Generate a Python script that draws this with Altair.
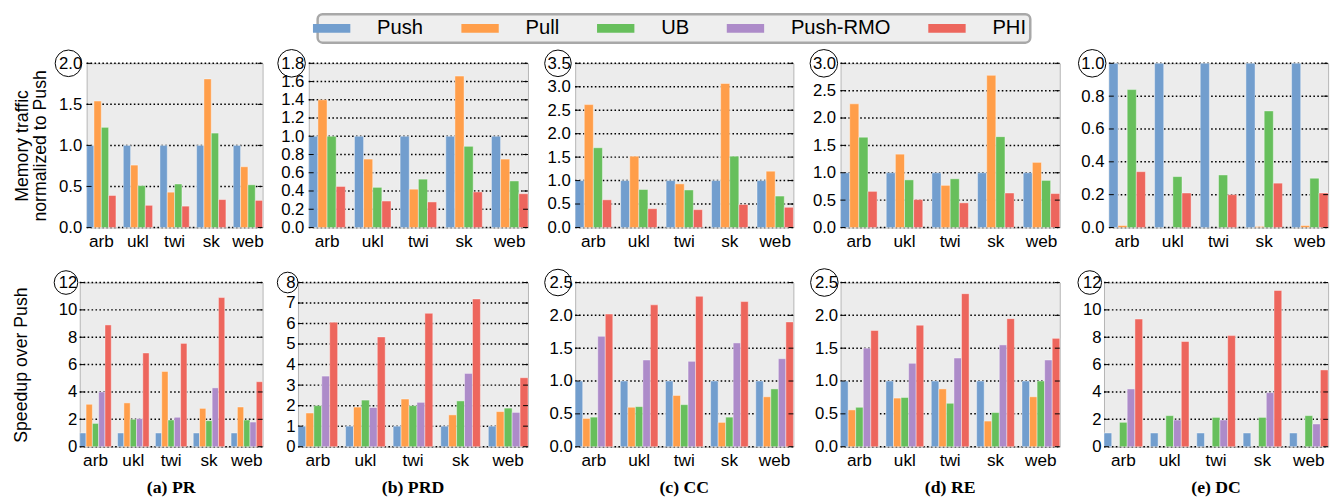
import altair as alt
import pandas as pd

DATASETS = ["arb", "ukl", "twi", "sk", "web"]
SERIES = ["Push", "Pull", "UB", "Push-RMO", "PHI"]
MEM_SERIES = ["Push", "Pull", "UB", "PHI"]
COLORS = ["#729ECE", "#FF9E4A", "#67BF5C", "#AD8BC9", "#ED665D"]
CAPTIONS = ["(a) PR", "(b) PRD", "(c) CC", "(d) RE", "(e) DC"]

# ---- Memory traffic normalized to Push (top row) ----
pr_mem = {"Push": [1.0, 1.0, 1.0, 1.0, 1.0],
          "Pull": [1.54, 0.76, 0.43, 1.81, 0.74],
          "UB":   [1.22, 0.51, 0.53, 1.15, 0.52],
          "PHI":  [0.39, 0.27, 0.26, 0.34, 0.33]}
prd_mem = {"Push": [1.0, 1.0, 1.0, 1.0, 1.0],
           "Pull": [1.40, 0.75, 0.42, 1.66, 0.75],
           "UB":   [1.00, 0.44, 0.53, 0.89, 0.51],
           "PHI":  [0.45, 0.29, 0.28, 0.39, 0.37]}
cc_mem = {"Push": [1.0, 1.0, 1.0, 1.0, 1.0],
          "Pull": [2.62, 1.52, 0.93, 3.07, 1.20],
          "UB":   [1.70, 0.81, 0.80, 1.52, 0.67],
          "PHI":  [0.59, 0.40, 0.38, 0.49, 0.43]}
re_mem = {"Push": [1.0, 1.0, 1.0, 1.0, 1.0],
          "Pull": [2.26, 1.34, 0.77, 2.78, 1.19],
          "UB":   [1.65, 0.87, 0.89, 1.66, 0.86],
          "PHI":  [0.66, 0.51, 0.45, 0.63, 0.62]}
dc_mem = {"Push": [1.0, 1.0, 1.0, 1.0, 1.0],
          "Pull": [0.012, None, None, 0.006, 0.012],
          "UB":   [0.84, 0.31, 0.32, 0.71, 0.30],
          "PHI":  [0.34, 0.21, 0.20, 0.27, 0.21]}

# ---- Speedup over Push (bottom row) ----
pr_spd = {"Push": [1.0, 1.0, 1.0, 1.0, 1.0],
          "Pull": [3.1, 3.2, 5.5, 2.8, 2.9],
          "UB":   [1.7, 2.0, 1.95, 1.9, 1.95],
          "Push-RMO": [4.0, 2.05, 2.15, 4.3, 1.8],
          "PHI":  [8.9, 6.85, 7.55, 10.9, 4.75]}
prd_spd = {"Push": [1.0, 1.0, 1.0, 1.0, 1.0],
           "Pull": [1.64, 1.93, 2.32, 1.55, 1.71],
           "UB":   [2.0, 2.27, 2.0, 2.23, 1.88],
           "Push-RMO": [3.44, 1.91, 2.16, 3.57, 1.67],
           "PHI":  [6.07, 5.35, 6.5, 7.2, 3.36]}
cc_spd = {"Push": [1.0, 1.0, 1.0, 1.0, 1.0],
          "Pull": [0.43, 0.60, 0.78, 0.37, 0.76],
          "UB":   [0.45, 0.61, 0.64, 0.45, 0.88],
          "Push-RMO": [1.68, 1.32, 1.30, 1.58, 1.34],
          "PHI":  [2.02, 2.16, 2.29, 2.21, 1.90]}
re_spd = {"Push": [1.0, 1.0, 1.0, 1.0, 1.0],
          "Pull": [0.56, 0.74, 0.88, 0.39, 0.76],
          "UB":   [0.60, 0.75, 0.66, 0.52, 1.0],
          "Push-RMO": [1.50, 1.27, 1.35, 1.55, 1.32],
          "PHI":  [1.77, 1.85, 2.33, 1.95, 1.65]}
dc_spd = {"Push": [1.0, 1.0, 1.0, 1.0, 1.0],
          "Pull": [None, None, None, None, None],
          "UB":   [1.78, 2.27, 2.14, 2.14, 2.27],
          "Push-RMO": [4.22, 1.95, 1.95, 3.95, 1.66],
          "PHI":  [9.33, 7.69, 8.12, 11.42, 5.61]}

# ---- y tick values ----
pr_mem_ticks = [0.0, 0.5, 1.0, 1.5, 2.0]
prd_mem_ticks = [0.0, 0.2, 0.4, 0.6, 0.8, 1.0, 1.2, 1.4, 1.6, 1.8]
cc_mem_ticks = [0.0, 0.5, 1.0, 1.5, 2.0, 2.5, 3.0, 3.5]
re_mem_ticks = [0.0, 0.5, 1.0, 1.5, 2.0, 2.5, 3.0]
dc_mem_ticks = [0.0, 0.2, 0.4, 0.6, 0.8, 1.0]
pr_spd_ticks = [0, 2, 4, 6, 8, 10, 12]
prd_spd_ticks = [0, 1, 2, 3, 4, 5, 6, 7, 8]
cc_spd_ticks = [0.0, 0.5, 1.0, 1.5, 2.0, 2.5]
re_spd_ticks = [0.0, 0.5, 1.0, 1.5, 2.0, 2.5]
dc_spd_ticks = [0, 2, 4, 6, 8, 10, 12]

FONT = "Liberation Sans"

LEGEND = alt.Legend(
    title=None, orient="none", legendX=312, legendY=-50, direction="horizontal", columns=5,
    symbolType="M-1.9,-0.45H1.9V0.45H-1.9Z", symbolSize=400, symbolStrokeWidth=0, symbolOpacity=1,
    labelFontSize=20.5, labelFont=FONT, labelColor="black", labelOffset=36, columnPadding=38,
    padding=4, fillColor="#eeeeee", strokeColor="#a8a8a8", cornerRadius=5, labelLimit=0,
)


def make_panel(vals, series, ticks, fmt, width, height, circ_x, circ_d,
               ytitle=None, ext=None, lpad=5, tpad=0, caption=None):
    rows = []
    for s in series:
        for d, v in zip(DATASETS, vals[s]):
            if v is not None:
                rows.append({"dataset": d, "series": s, "value": v})
    df = pd.DataFrame(rows)
    n = len(series)
    ymax = ticks[-1]
    yscale = alt.Scale(domain=[0, ymax], nice=False, zero=True)
    axis_kw = dict(values=ticks, format=fmt, ticks=False, domain=False, grid=False,
                   labelPadding=lpad, labelFontSize=17, labelColor="black", labelFont=FONT,
                   title=ytitle)
    if ext is not None:
        axis_kw["minExtent"] = ext
    if ytitle is not None:
        axis_kw.update(titleFontSize=18, titleFont=FONT, titleFontWeight="normal",
                       titleColor="black", titlePadding=tpad, titleLineHeight=19)
    yenc = alt.Y("value:Q", scale=yscale, axis=alt.Axis(**axis_kw))
    tdf = pd.DataFrame({"value": ticks})
    grid = alt.Chart(tdf).mark_rule(color="black", strokeWidth=1.5, strokeDash=[1.6, 2.4]).encode(
        y=yenc, x=alt.value(0), x2=alt.value(width))
    bars = alt.Chart(df).mark_bar(stroke="white", strokeWidth=0.7, strokeOpacity=0.6).encode(
        x=alt.X("dataset:N", sort=DATASETS,
                scale=alt.Scale(domain=DATASETS, paddingInner=1 / (n + 1), paddingOuter=0),
                axis=alt.Axis(title=None, ticks=False, domain=False, labelAngle=0,
                              labelFontSize=17.5, labelPadding=5, labelFont=FONT,
                              labelColor="black", grid=False)),
        xOffset=alt.XOffset("series:N", sort=series,
                            scale=alt.Scale(domain=series, paddingInner=0, paddingOuter=0)),
        y=yenc,
        color=alt.Color("series:N", scale=alt.Scale(domain=SERIES, range=COLORS), legend=LEGEND),
    )
    lt = alt.Chart(tdf).mark_rule(color="black", strokeWidth=1).encode(
        y=yenc, x=alt.value(0), x2=alt.value(5))
    rt = alt.Chart(tdf).mark_rule(color="black", strokeWidth=1).encode(
        y=yenc, x=alt.value(width - 5), x2=alt.value(width))
    circ = alt.Chart(pd.DataFrame({"value": [ymax]})).mark_point(
        shape="circle", filled=False, color="black", strokeWidth=1, size=circ_d ** 2, opacity=1
    ).encode(y=yenc, x=alt.value(-circ_x))
    props = dict(width=width, height=height)
    if caption is not None:
        props["title"] = alt.TitleParams(text=caption, orient="bottom", anchor="middle",
                                         font="Liberation Serif", fontSize=18, fontWeight="bold",
                                         color="black", offset=11)
    return alt.layer(grid, bars, lt, rt, circ).properties(**props)


def spacer():
    return alt.Chart(pd.DataFrame({"v": [0]})).mark_rule(strokeOpacity=0).encode(
        x=alt.value(0), y=alt.value(0), y2=alt.value(1)
    ).properties(width=1, height=1, view=alt.ViewBackground(fillOpacity=0, strokeOpacity=0))


TH = 167
BH = 167
top = alt.hconcat(
    spacer(),
    make_panel(pr_mem, MEM_SERIES, pr_mem_ticks, ".1f", 179, TH, 18.5, 27,
               ytitle=["Memory traffic", "normalized to Push"], tpad=9),
    make_panel(prd_mem, MEM_SERIES, prd_mem_ticks, ".1f", 223, TH, 17.5, 28, ext=44),
    make_panel(cc_mem, MEM_SERIES, cc_mem_ticks, ".1f", 222, TH, 17.5, 27, ext=45),
    make_panel(re_mem, MEM_SERIES, re_mem_ticks, ".1f", 223, TH, 17, 28, ext=45),
    make_panel(dc_mem, MEM_SERIES, dc_mem_ticks, ".1f", 223, TH, 17, 28, ext=47),
    spacing=0,
).resolve_scale(x="independent", y="independent", xOffset="independent", color="shared")

bottom = alt.hconcat(
    spacer(),
    make_panel(pr_spd, SERIES, pr_spd_ticks, "d", 186, BH, 14, 24,
               ytitle="Speedup over Push", lpad=3, tpad=28, caption=CAPTIONS[0]),
    make_panel(prd_spd, SERIES, prd_spd_ticks, "d", 234, BH, 10.5, 21, ext=33, lpad=3,
               caption=CAPTIONS[1]),
    make_panel(cc_spd, SERIES, cc_spd_ticks, ".1f", 222, BH, 17.5, 27, ext=45, lpad=3,
               caption=CAPTIONS[2]),
    make_panel(re_spd, SERIES, re_spd_ticks, ".1f", 223, BH, 16.5, 28, ext=45, lpad=3,
               caption=CAPTIONS[3]),
    make_panel(dc_spd, SERIES, dc_spd_ticks, "d", 228, BH, 14.5, 24, ext=42, lpad=3,
               caption=CAPTIONS[4]),
    spacing=0,
).resolve_scale(x="independent", y="independent", xOffset="independent", color="shared")

chart = alt.vconcat(top, bottom, spacing=16).resolve_scale(
    x="independent", y="independent", xOffset="independent", color="shared"
).properties(
    padding={"left": 3, "top": 0, "right": 5, "bottom": 0}
).configure_view(
    fill="#ececec", stroke="#b5b5b5", strokeWidth=1
).configure_legend(strokeWidth=2.5)

chart.save("out.html", embed_options={"renderer": "svg", "actions": False})
